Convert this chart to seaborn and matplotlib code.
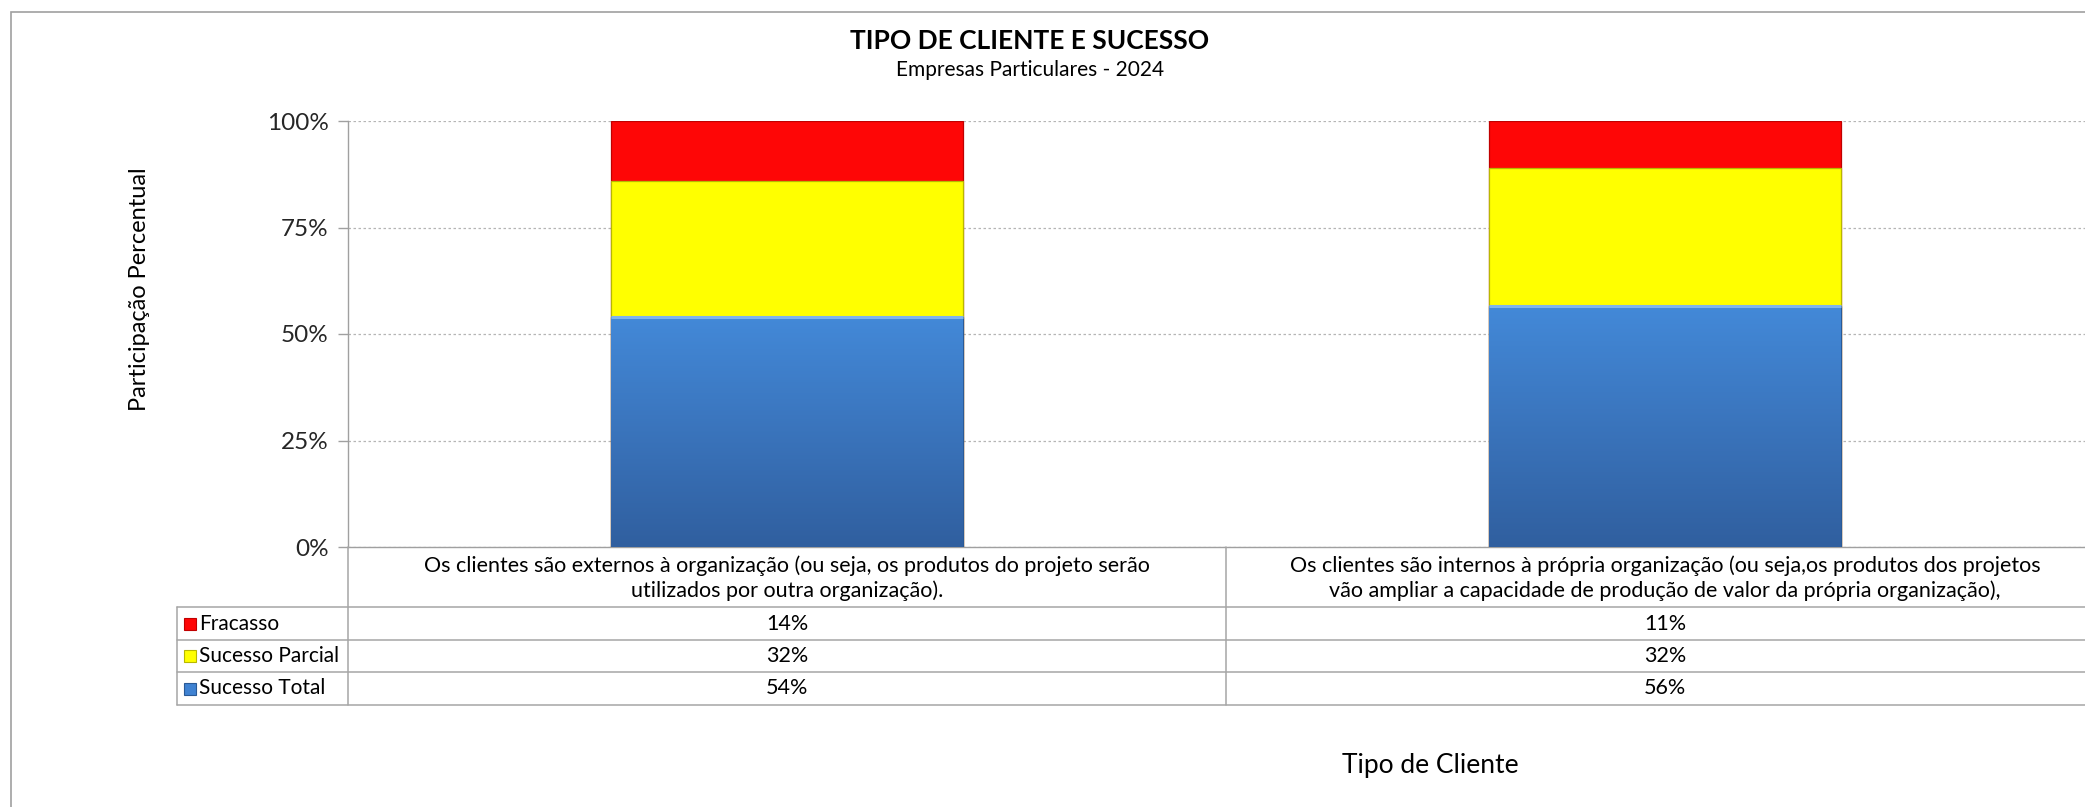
import numpy as np
import pandas as pd
import matplotlib
matplotlib.use("Agg")
import matplotlib.pyplot as plt
import matplotlib.transforms as mtransforms
from matplotlib.colors import LinearSegmentedColormap
from matplotlib.patches import Rectangle
import seaborn as sns

# --- data ---
categories = [
    "Os clientes são externos à organização (ou seja, os produtos do projeto serão\nutilizados por outra organização).",
    "Os clientes são internos à própria organização (ou seja,os produtos dos projetos\nvão ampliar a capacidade de produção de valor da própria organização),",
]
series = ["Fracasso", "Sucesso Parcial", "Sucesso Total"]
fracasso = [14, 11]
sucesso_parcial = [32, 32]
sucesso_total = [54, 56]
colors = {"Fracasso": "#fe0606", "Sucesso Parcial": "#ffff00", "Sucesso Total": "#3f82d2"}
edges = {"Fracasso": "#c00000", "Sucesso Parcial": "#b8b800", "Sucesso Total": "#2a5a96"}

W, H = 2085, 807
def fx(px):
    return px / W
def fy(py):
    return 1 - py / H

sns.set_theme(style="white")
plt.rcParams["font.family"] = ["Lato", "DejaVu Sans"]

fig = plt.figure(figsize=(W / 100, H / 100), dpi=100)
fig.patch.set_facecolor("white")

# outer chart border (cut by the canvas on the right / bottom)
fig.patches.append(Rectangle((fx(11), -0.2), 1.5, fy(12) + 0.2, transform=fig.transFigure,
                             fill=False, edgecolor="#a0a0a0", lw=1.2))

ax_left, ax_right, ax_top, ax_bot = 348, 2104, 121, 547
ax = fig.add_axes([fx(ax_left), fy(ax_bot), fx(ax_right) - fx(ax_left), fy(ax_top) - fy(ax_bot)])

df = pd.DataFrame({"cat": categories, "Fracasso": fracasso,
                   "Sucesso Parcial": sucesso_parcial, "Sucesso Total": sucesso_total})
total = df[series].sum(axis=1)
# 100% stacked: cumulative shares drawn back to front
df["cum_fr"] = (df["Fracasso"] + df["Sucesso Parcial"] + df["Sucesso Total"]) / total
df["cum_sp"] = (df["Sucesso Parcial"] + df["Sucesso Total"]) / total
df["cum_st"] = df["Sucesso Total"] / total

for col, name in [("cum_fr", "Fracasso"), ("cum_sp", "Sucesso Parcial"), ("cum_st", "Sucesso Total")]:
    sns.barplot(data=df, x="cat", y=col, color=colors[name], saturation=1, width=0.4,
                errorbar=None, edgecolor=edges[name], linewidth=0.9, ax=ax, zorder=3)

# bevel-like vertical gradient on the blue layer
cmap = LinearSegmentedColormap.from_list("blu", ["#305f9f", "#3a74bc", "#4389d8"])
grad = np.linspace(0, 1, 256).reshape(-1, 1)
for p in ax.patches[-2:]:
    x0, y0 = p.get_x(), p.get_y()
    im = ax.imshow(grad, cmap=cmap, origin="lower", aspect="auto",
                   extent=[x0, x0 + p.get_width(), y0, y0 + p.get_height()], zorder=3.5)
    im.set_clip_path(p)
    # light highlight along the top edge
    ax.plot([x0, x0 + p.get_width()], [y0 + p.get_height()] * 2, color="#7fb4ec",
            lw=2.2, zorder=3.6, solid_capstyle="butt")

ax.set_xlim(-0.5, 1.5)
ax.set_ylim(0, 1)
ax.set_yticks([0, 0.25, 0.5, 0.75, 1.0])
ax.set_yticklabels(["0%", "25%", "50%", "75%", "100%"], fontsize=17.5)
ax.set_xticks([])
ax.set_xlabel("")
ax.set_ylabel("")
ax.tick_params(axis="y", left=True, length=7, width=1, color="#a0a0a0", pad=7)
ax.yaxis.grid(True, linestyle=(0, (2, 2)), color="#b5b5b5", lw=0.9)
ax.set_axisbelow(True)
for s in ["top", "right"]:
    ax.spines[s].set_visible(False)
for s in ["left", "bottom"]:
    ax.spines[s].set_color("#a0a0a0")
    ax.spines[s].set_linewidth(1)

# titles
fig.text(fx(1030), fy(41), "TIPO DE CLIENTE E SUCESSO", ha="center", va="center",
         fontsize=19, fontweight="bold", color="black")
fig.text(fx(1030), fy(70), "Empresas Particulares - 2024", ha="center", va="center",
         fontsize=15, color="black")
fig.text(fx(140), fy(289), "Participação Percentual", rotation=90, ha="center", va="center",
         fontsize=17, color="black")
fig.text(fx(1430), fy(765), "Tipo de Cliente", ha="center", va="center",
         fontsize=19, color="black")

# data table under the axis
line_c = "#a6a6a6"
row_lines = [607, 640, 672, 705]
trans = mtransforms.blended_transform_factory(ax.transData, fig.transFigure)
for ry in row_lines:
    fig.add_artist(plt.Line2D([fx(177), 1.2], [fy(ry), fy(ry)], transform=fig.transFigure,
                              color=line_c, lw=1.1))
fig.add_artist(plt.Line2D([fx(ax_left), fx(ax_left)], [fy(ax_bot), fy(705)],
                          transform=fig.transFigure, color=line_c, lw=1.1))
fig.add_artist(plt.Line2D([0.5, 0.5], [fy(ax_bot), fy(705)], transform=trans,
                          color=line_c, lw=1.1))
fig.add_artist(plt.Line2D([fx(177), fx(177)], [fy(607), fy(705)],
                          transform=fig.transFigure, color=line_c, lw=1.1))

for i, cat in enumerate(categories):
    fig.text(i, fy(578), cat, transform=trans, ha="center", va="center",
             fontsize=15.5, linespacing=1.3, color="black")

values = [fracasso, sucesso_parcial, sucesso_total]
for r, name in enumerate(series):
    top, bot = row_lines[r], row_lines[r + 1]
    mid = (top + bot) / 2
    fig.patches.append(Rectangle((fx(184), fy(mid + 6)), fx(12), fy(mid - 6) - fy(mid + 6),
                                 transform=fig.transFigure, facecolor=colors[name],
                                 edgecolor=edges[name], lw=0.8))
    fig.text(fx(199), fy(mid), name, ha="left", va="center", fontsize=15, color="black")
    for i in range(len(categories)):
        fig.text(i, fy(mid), f"{values[r][i]}%", transform=trans, ha="center", va="center",
                 fontsize=15.5, color="black")

fig.savefig("out.png", dpi=100, facecolor="white")
